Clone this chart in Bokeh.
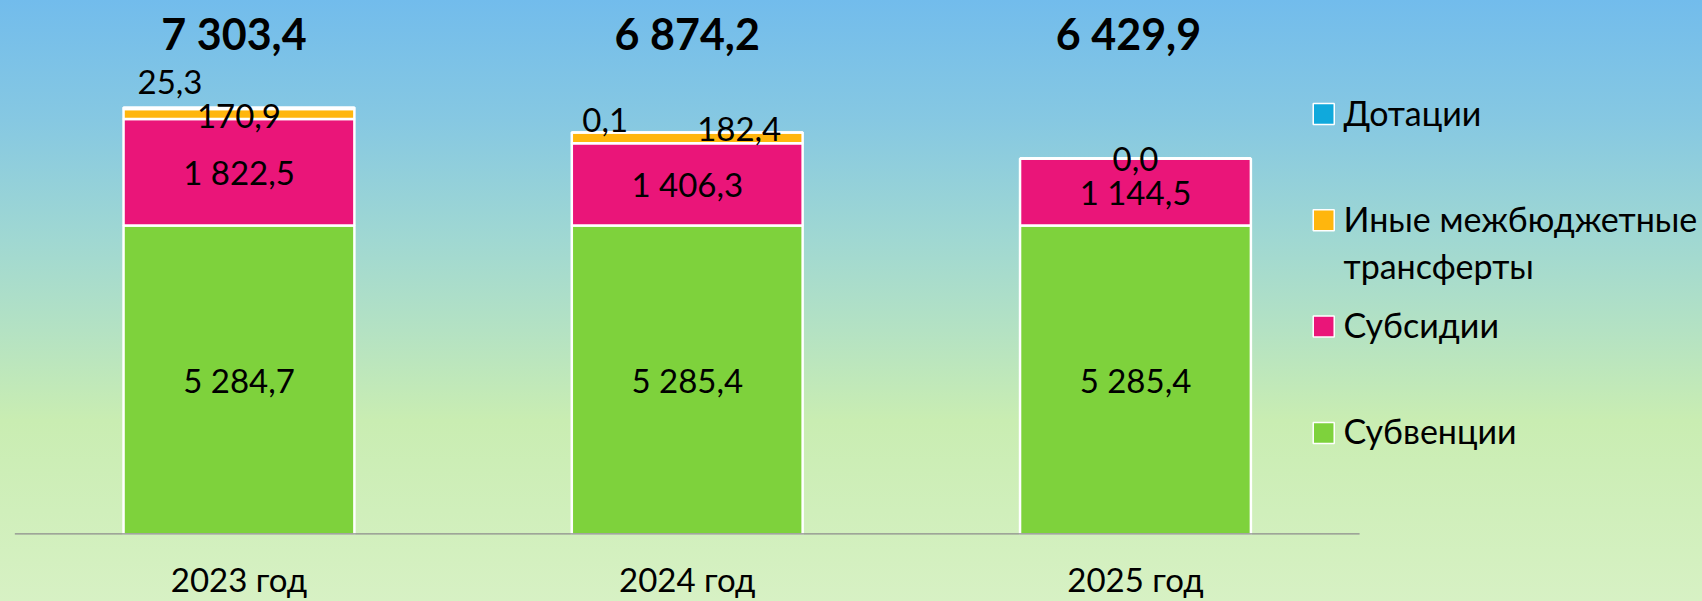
from bokeh.plotting import figure
from bokeh.models import Range1d, FixedTicker, ColumnDataSource
from bokeh.core.properties import value
from bokeh.embed import file_html
from bokeh.resources import INLINE

# ---------------- data ----------------
years = ["2023 год", "2024 год", "2025 год"]
series_names = ["Субвенции", "Субсидии", "Иные межбюджетные трансферты", "Дотации"]
subventions = [5284.7, 5285.4, 5285.4]
subsidies = [1822.5, 1406.3, 1144.5]
other_transfers = [170.9, 182.4, 0.0]
grants = [25.3, 0.1, 0.0]
legend_labels = ["Дотации", "Иные межбюджетные\nтрансферты", "Субсидии", "Субвенции"]

# ---------------- style ----------------
colors = ["#7ED23C", "#EA1579", "#FFB60D", "#10A9DC"]
FONT = "Lato"
W, H = 1702, 601
AXIS_H = 67
FRAME_H = H - AXIS_H
Y_END = 9133

def fmt(v):
    s = f"{v:,.1f}"
    return s.replace(",", " ").replace(".", ",")

xs = list(range(len(years)))
cols = {"x": xs}
keys = ["s0", "s1", "s2", "s3"]
data = [subventions, subsidies, other_transfers, grants]
for k, d in zip(keys, data):
    cols[k] = d
src = ColumnDataSource(cols)

p = figure(width=W, height=H, output_backend="svg", toolbar_location=None,
           x_range=Range1d(-0.503, 3.265), y_range=Range1d(0, Y_END),
           y_axis_location=None, min_border_left=13, min_border_right=0,
           min_border_top=0, min_border_bottom=0)
p.background_fill_color = None
p.border_fill_color = None
p.outline_line_color = None
p.xgrid.visible = False
p.ygrid.visible = False

BAR_W = 0.515
p.vbar_stack(keys, x="x", width=BAR_W, color=colors, source=src,
             line_color="white", line_width=2.5)

# axis line spanning the categories
p.segment(x0=[-0.5], y0=[0], x1=[len(years) - 0.5], y1=[0],
          line_color="#8C8C8C", line_width=2.5)

ax = p.xaxis[0]
ax.ticker = FixedTicker(ticks=xs)
ax.major_label_overrides = {i: y for i, y in zip(xs, years)}
ax.axis_line_color = None
ax.major_tick_line_color = None
ax.minor_tick_line_color = None
ax.major_label_text_font = FONT
ax.major_label_text_font_size = "33px"
ax.major_label_text_color = "black"
ax.major_label_standoff = 18

# segment labels
lx, ly, lt, lxo, lyo = [], [], [], [], []
bottoms = [0.0] * len(years)
# offsets (px) for the small labels, per series index
offs = {
    2: [(0, 2), (52, -9), (0, 0)],
    3: [(-69, -26), (-82, -13), None],
}
for si, d in enumerate(data):
    for i, v in enumerate(d):
        c = bottoms[i] + v / 2
        o = (0, 0)
        if si in offs:
            o = offs[si][i]
        if o is not None:
            lx.append(xs[i]); ly.append(c); lt.append(fmt(v))
            lxo.append(o[0]); lyo.append(o[1])
        bottoms[i] += v
p.text(x=lx, y=ly, text=lt, x_offset=lxo, y_offset=lyo,
       text_align="center", text_baseline="middle",
       text_font=value(FONT), text_font_size="33px", text_color="black")

# totals
totals = [sum(col) for col in zip(*data)]
p.text(x=xs, y=[Y_END] * len(xs), text=[fmt(t) for t in totals],
       x_offset=[-5, 0, -7], y_offset=33, text_align="center", text_baseline="middle",
       text_font=value(FONT), text_font_size="43px", text_font_style="bold",
       text_color="black")

# legend (manual, Excel-like layout)
PX = Y_END / FRAME_H  # data units per pixel vertically
leg_colors = [colors[3], colors[2], colors[1], colors[0]]
top_px = 113.5
sq_y = [Y_END - (top_px + i * 106.3) * PX for i in range(4)]
sq_x = [2.420] * 4
p.scatter(x=sq_x, y=sq_y, marker="square", size=21, fill_color=leg_colors,
          line_color="white", line_width=1.5)
single = [i for i in range(4) if "\n" not in legend_labels[i]]
multi = [i for i in range(4) if "\n" in legend_labels[i]]
p.text(x=[2.464] * len(single), y=[sq_y[i] for i in single],
       text=[legend_labels[i] for i in single], y_offset=-2,
       text_align="left", text_baseline="middle",
       text_font=value(FONT), text_font_size="34px", text_color="black")
p.text(x=[2.464] * len(multi), y=[sq_y[i] for i in multi],
       text=[legend_labels[i] for i in multi], y_offset=-22,
       text_align="left", text_baseline="top", text_line_height=1.15,
       text_font=value(FONT), text_font_size="34px", text_color="black")

html = file_html(p, INLINE)
css = ("<style>html{min-height:100%;background:linear-gradient(180deg,"
       "#72BCEC 0%,#86C8E2 20%,#A0D8D2 40%,#B4E2C3 55%,#C9EDB2 70%,#D7F1C4 100%);}"
       "body{background:transparent;}</style>")
html = html.replace("</head>", css + "</head>", 1)
open("out.html", "w").write(html)
